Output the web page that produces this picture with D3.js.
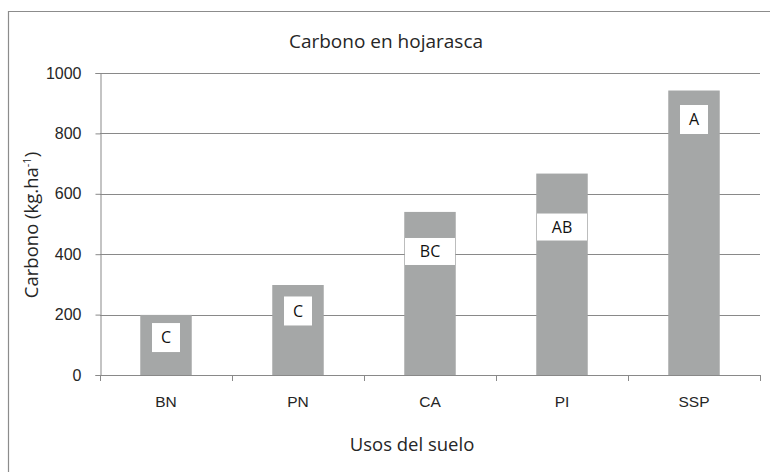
<!DOCTYPE html>
<html><head><meta charset="utf-8">
<script src="https://cdn.jsdelivr.net/npm/d3@7"></script>
<style>
html,body{margin:0;padding:0;background:#fff;}
svg{display:block;font-family:"Open Sans","Noto Sans",sans-serif;}
</style></head>
<body>
<svg id="c" width="770" height="472"></svg>
<script>
const categories = ["BN","PN","CA","PI","SSP"];
const values = [199, 298, 540, 667, 942];
const letters = ["C","C","BC","AB","A"];
const letterLevels = [124, 212, 409, 490, 846];
const yTicks = [0,200,400,600,800,1000];
const title = "Carbono en hojarasca";
const xTitle = "Usos del suelo";

(function(){
const svg = d3.select("#c");
const pLeft = 100, pRight = 760, pTop = 73, pBottom = 375;
const grid = "#898989", barColor = "#A5A7A7", textColor = "#262626";

// outer frame (left and top edges visible)
svg.append("path").attr("d","M8.5,472 L8.5,11.5 L770,11.5").attr("fill","none").attr("stroke","#8c8c8c").attr("stroke-width",1.2);

const x = d3.scaleBand().domain(categories).range([pLeft,pRight]).paddingInner(0.61).paddingOuter(0.305);
const xb = d3.scaleBand().domain(categories).range([pLeft,pRight]);
const y = d3.scaleLinear().domain([0,1000]).range([pBottom,pTop]);

// gridlines
svg.append("g").selectAll("line").data(yTicks.filter(d=>d>0)).join("line")
  .attr("x1",pLeft).attr("x2",pRight).attr("y1",d=>Math.round(y(d))+0.5).attr("y2",d=>Math.round(y(d))+0.5)
  .attr("stroke",grid).attr("stroke-width",1);

// bars
svg.append("g").selectAll("rect").data(values).join("rect")
  .attr("x",(d,i)=>x(categories[i])).attr("width",x.bandwidth())
  .attr("y",d=>y(d)).attr("height",d=>pBottom-y(d)).attr("fill",barColor);

// y axis
const yAxis = d3.axisLeft(y).tickValues(yTicks).tickSize(5).tickPadding(14).tickFormat(d3.format("d"));
const gy = svg.append("g").attr("transform",`translate(${pLeft+0.5},0)`).call(yAxis);
gy.select(".domain").attr("stroke",grid);
gy.selectAll(".tick line").attr("stroke",grid);
gy.selectAll(".tick text").attr("fill",textColor).attr("font-size",16);

// x axis
const xAxis = d3.axisBottom(xb).tickSize(0).tickPadding(20);
const gx = svg.append("g").attr("transform",`translate(0,${pBottom+0.5})`).call(xAxis);
gx.select(".domain").attr("stroke",grid).attr("d",`M${pLeft},0H${pRight}`);
gx.selectAll(".tick text").attr("fill",textColor).attr("font-size",15.5);
// category boundary ticks
svg.append("g").selectAll("line").data(categories.concat(["_end"])).join("line")
  .attr("x1",(d,i)=>Math.round(i<categories.length?xb(d):pRight)+0.5)
  .attr("x2",(d,i)=>Math.round(i<categories.length?xb(d):pRight)+0.5)
  .attr("y1",pBottom).attr("y2",pBottom+6).attr("stroke",grid);

// letter labels
const lab = svg.append("g").selectAll("g").data(letters).join("g")
  .attr("transform",(d,i)=>`translate(${x(categories[i])+x.bandwidth()/2},${y(letterLevels[i])})`);
lab.append("text").text(d=>d).attr("text-anchor","middle").attr("dy","0.36em")
  .attr("font-size",16).attr("fill","#111");
lab.each(function(){
  const g=d3.select(this); const bb=g.select("text").node().getBBox();
  const two = bb.width>14;
  const w = two ? 50 : 28, h = two ? 27 : 29;
  g.insert("rect","text").attr("x",-w/2).attr("y",-h/2).attr("width",w).attr("height",h).attr("fill","#fff");
});

// titles
svg.append("text").attr("x",386).attr("y",48).attr("text-anchor","middle").attr("font-size",19).attr("fill",textColor).text(title);
svg.append("text").attr("x",412).attr("y",451).attr("text-anchor","middle").attr("font-size",18.5).attr("fill",textColor).text(xTitle);
const yt = svg.append("text").attr("transform","translate(38,225) rotate(-90)").attr("text-anchor","middle").attr("font-size",18.5).attr("fill",textColor);
yt.append("tspan").text("Carbono (kg.ha");
yt.append("tspan").text("-1").attr("font-size",11).attr("dy",-7);
yt.append("tspan").text(")").attr("dy",7);
})();
</script>
</body></html>
